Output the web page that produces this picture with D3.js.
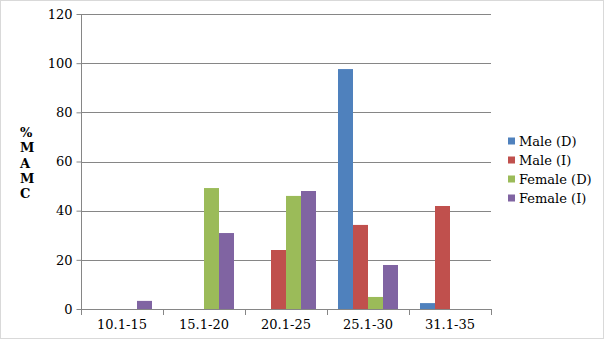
<!DOCTYPE html>
<html><head><meta charset="utf-8">
<script src="https://cdn.jsdelivr.net/npm/d3@7"></script>
<style>body{margin:0;background:#fff}svg{display:block}</style>
</head><body>
<script>
const categories = ["10.1-15","15.1-20","20.1-25","25.1-30","31.1-35"];
const seriesNames = ["Male (D)","Male (I)","Female (D)","Female (I)"];
const maleD   = [0, 0, 0, 97.6, 2.4];
const maleI   = [0, 0, 24, 34.2, 41.9];
const femaleD = [0, 49.2, 46, 4.9, 0];
const femaleI = [3.3, 30.9, 48, 17.9, 0];
const yTicks = [0,20,40,60,80,100,120];
const colors = ["#4F81BD","#C0504D","#9BBB59","#8064A2"];
const series = [maleD, maleI, femaleD, femaleI];

const W=605,H=340;
const svg=d3.select("body").append("svg").attr("width",W).attr("height",H);
svg.append("rect").attr("x",0.5).attr("y",0.5).attr("width",W-2).attr("height",H-2)
  .attr("fill","#fff").attr("stroke","#d9d9d9");
const font="DejaVu Serif";
const x0=d3.scaleBand().domain(categories).range([81,491]);
const x1=d3.scaleBand().domain(d3.range(4)).range([0,x0.bandwidth()]).paddingOuter(0.733).paddingInner(0);
const y=d3.scaleLinear().domain([0,120]).range([309,14]);

// gridlines
svg.append("g").selectAll("line").data(yTicks.filter(d=>d>0)).join("line")
  .attr("x1",81).attr("x2",491).attr("y1",d=>Math.round(y(d))+0.5).attr("y2",d=>Math.round(y(d))+0.5)
  .attr("stroke","#868686");

// bars
const g=svg.append("g");
series.forEach((s,i)=>{
  g.selectAll(null).data(s).join("rect")
    .attr("x",(d,j)=>x0(categories[j])+x1(i))
    .attr("width",x1.bandwidth())
    .attr("y",d=>y(d)).attr("height",d=>y(0)-y(d))
    .attr("fill",colors[i]);
});

// y axis
const ya=svg.append("g").attr("transform","translate(81.5,0)")
  .call(d3.axisLeft(y).tickValues(yTicks).tickSize(5).tickPadding(4));
ya.select(".domain").attr("stroke","#868686").attr("d","M0,"+y(120)+"V"+(y(0)+0.5));
ya.selectAll(".tick line").attr("stroke","#868686");
ya.selectAll("text").attr("font-family",font).attr("font-size",13).attr("fill","#000");

// x axis
const xa=svg.append("g").attr("transform","translate(0,309.5)")
  .call(d3.axisBottom(x0).tickSize(0).tickPadding(10));
xa.select(".domain").attr("stroke","#868686").attr("d","M81,0H491");
xa.selectAll("text").attr("font-family",font).attr("font-size",13).attr("fill","#000");
const bounds=d3.range(6).map(i=>81+i*x0.bandwidth());
svg.append("g").selectAll("line").data(bounds).join("line")
  .attr("x1",d=>Math.round(d)+0.5).attr("x2",d=>Math.round(d)+0.5).attr("y1",309).attr("y2",315)
  .attr("stroke","#868686");

// y title
const titleChars=["%","M","A","M","C"];
svg.append("g").selectAll("text").data(titleChars).join("text")
  .attr("x",20).attr("y",(d,i)=>137+i*15.3).text(d=>d)
  .attr("font-family",font).attr("font-size",13).attr("font-weight","bold");

// legend
const lg=svg.append("g").selectAll("g").data(seriesNames).join("g")
  .attr("transform",(d,i)=>`translate(508,${141+i*19})`);
lg.append("rect").attr("x",0).attr("y",-3.5).attr("width",7).attr("height",7).attr("fill",(d,i)=>colors[i]);
lg.append("text").attr("x",11).attr("y",4.5).text(d=>d)
  .attr("font-family",font).attr("font-size",13);
</script>
</body></html>
